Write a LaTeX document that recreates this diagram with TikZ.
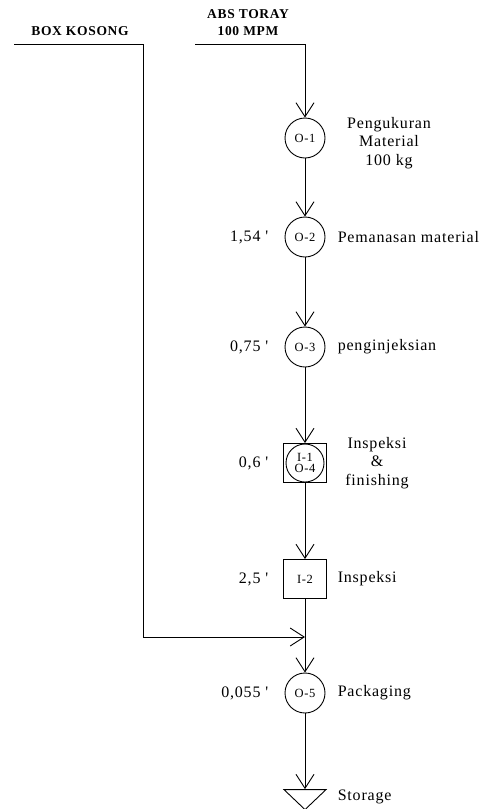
\documentclass[tikz,border=0pt]{standalone}
\usepackage{fontspec}
\setmainfont{Liberation Serif}[LetterSpace=5]
\usetikzlibrary{arrows.meta,shapes.geometric}
\begin{document}
\begin{tikzpicture}[x=1pt,y=-1pt,line width=0.9pt,
  every node/.style={font=\fontsize{16}{18.5}\selectfont},
  op/.style={draw,circle,minimum size=40pt,inner sep=0pt,font=\fontsize{12.5}{12}\selectfont},
  insp/.style={draw,rectangle,minimum width=43pt,minimum height=39pt,inner sep=0pt},
  stor/.style={draw,isosceles triangle,isosceles triangle stretches,shape border rotate=270,
    minimum width=42pt,minimum height=20pt,inner sep=0pt},
  flow/.style={-{Straight Barb[length=14pt,width=18pt]}},
  tag/.style={font=\bfseries\fontsize{13.5}{17}\selectfont,align=center}]
  \useasboundingbox (0,0) rectangle (486,809);
  % incoming materials
  \node[tag] (kosonglbl) at (80,31) {BOX KOSONG};
  \node[tag] (toraylbl) at (248,23) {ABS TORAY\\100 MPM};
  \coordinate (kosong) at (14,44);
  \coordinate (toray) at (195,44);
  \coordinate (merge) at (305,637);
  % process chain
  \node[op] (o1) at (305,138) {O-1};
  \node[op] (o2) at (305,237) {O-2};
  \node[op] (o3) at (305,347) {O-3};
  \node[insp] (io4) at (305,463) {};
  \node[op,minimum size=38pt,align=center] (io4c) at (io4) {I-1\\[-1pt]O-4};
  \node[insp,font=\fontsize{12.5}{12}\selectfont] (i2) at (305,579) {I-2};
  \node[op] (o5) at (305,693) {O-5};
  \node[stor] (st) at (305,798) {};
  \draw[flow] (toray) -| (o1);
  \draw[flow] (o1) -- (o2);
  \draw[flow] (o2) -- (o3);
  \draw[flow] (o3) -- (io4);
  \draw[flow] (io4) -- (i2);
  \draw[flow] (i2) -- (o5);
  \draw[flow] (o5) -- (st);
  \draw[flow] (kosong) -- ++(129,0) |- (merge);
  % times
  \node[anchor=east] (t2) at (272,237) {1,54 \textquotesingle};
  \node[anchor=east] (t3) at (272,347) {0,75 \textquotesingle};
  \node[anchor=east] (t4) at (272,463) {0,6 \textquotesingle};
  \node[anchor=east] (t5) at (272,579) {2,5 \textquotesingle};
  \node[anchor=east] (t6) at (272,693) {0,055 \textquotesingle};
  % activity names
  \node[align=center] (d1) at (389,143) {Pengukuran\\Material\\100 kg};
  \node[anchor=west] (d2) at (334,237) {Pemanasan material};
  \node[anchor=west] (d3) at (334,347) {penginjeksian};
  \node[align=center] (d4) at (377,463) {Inspeksi\\\&\\finishing};
  \node[anchor=west] (d5) at (334,579) {Inspeksi};
  \node[anchor=west] (d6) at (334,693) {Packaging};
  \node[anchor=west] (d7) at (334,797) {Storage};
\end{tikzpicture}
\end{document}
